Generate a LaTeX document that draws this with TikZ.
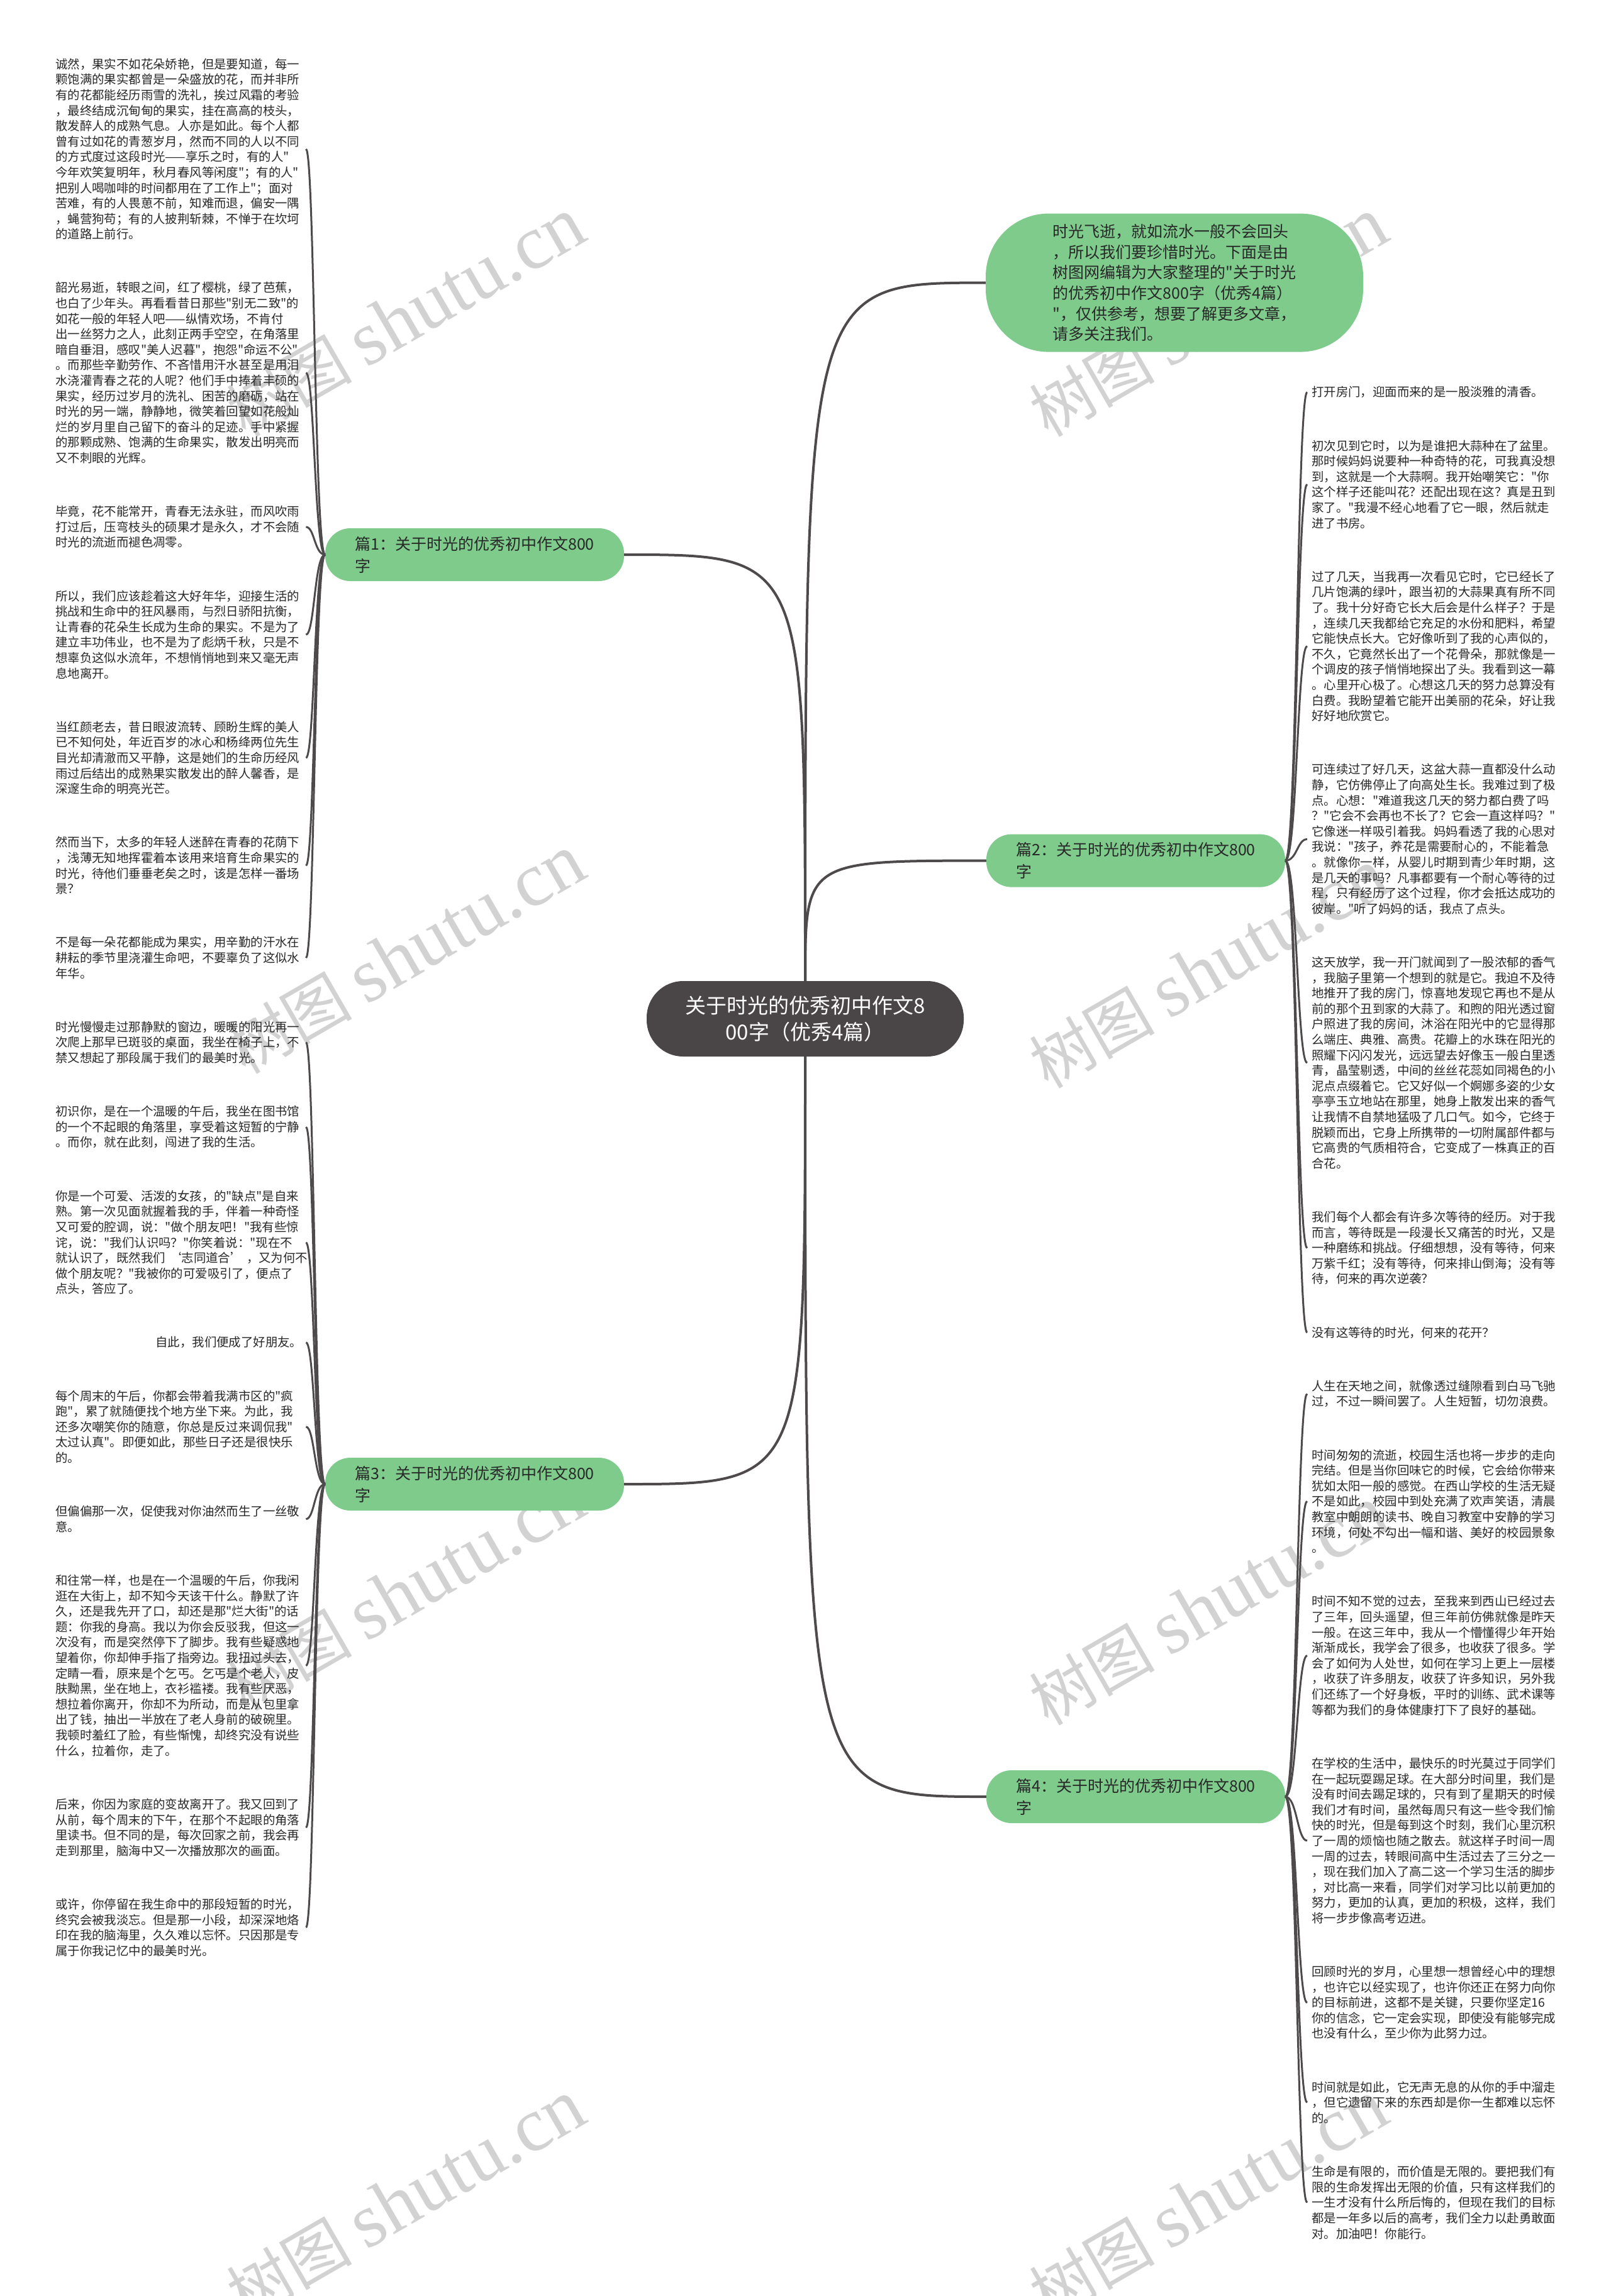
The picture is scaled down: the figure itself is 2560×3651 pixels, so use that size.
\documentclass[tikz,border=0pt]{standalone}
\usepackage{fontspec}
\setmainfont{Noto Sans CJK SC}[Ligatures=TeXOff]
\newfontfamily\wmlatin{Liberation Serif}
\definecolor{mmgreen}{RGB}{126,203,140}
\definecolor{mmdark}{RGB}{74,69,70}
\definecolor{mmline}{RGB}{78,74,75}
\definecolor{mmtext}{RGB}{40,40,40}
\definecolor{wmgray}{RGB}{210,210,210}
\begin{document}
\begin{tikzpicture}[x=1pt,y=-1pt,
  leaf/.style={inner sep=0pt, text width=392pt, font=\fontsize{19.4}{24.6}\selectfont, text=mmtext},
  leafL/.style={leaf, anchor=north west, align=left},
  leafR/.style={leaf, anchor=north west, align=left},
  branch/.style={fill=mmgreen, rounded corners=40pt, minimum width=475pt, minimum height=84pt, inner sep=0pt, align=left, font=\fontsize{25}{35}\selectfont, text=mmtext},
  topnode/.style={fill=mmgreen, rounded corners=100pt, minimum width=600pt, minimum height=220pt, inner sep=0pt, align=left, font=\fontsize{25}{32.6}\selectfont, text=mmtext},
  centre/.style={fill=mmdark, rounded corners=58pt, minimum width=504pt, minimum height=120pt, inner sep=0pt, align=center, font=\fontsize{33}{42}\selectfont, text=white},
  mainline/.style={draw=mmline, line width=4pt},
  leafline/.style={draw=mmline, line width=3pt},
  wm/.style={text=wmgray, rotate=30, font=\fontsize{100}{110}\selectfont, inner sep=0pt}
]
\fill[white] (0,0) rectangle (2560,3651);
\useasboundingbox (0,0) rectangle (2560,3651);

% watermarks
\foreach \wx/\wy [count=\k] in {645/505, 1921/505, 645/1518, 1921/1541, 645/2531, 1921/2554, 645/3498, 1921/3498}
  \node[wm] (wm\k) at (\wx,\wy) {树图 {\wmlatin\fontsize{122}{122}\selectfont shutu.cn}};

% main nodes
\node[centre] (c) at (1280,1620) {关于时光的优秀初中作文8\\00字（优秀4篇）};
\node[topnode] (top) at (1867,449.6) {时光飞逝，就如流水一般不会回头\\，所以我们要珍惜时光。下面是由\\树图网编辑为大家整理的"关于时光\\的优秀初中作文800字（优秀4篇）\\"，仅供参考，想要了解更多文章，\\请多关注我们。};
\node[branch] (b1) at (754.5,882) {篇1：关于时光的优秀初中作文800\\字};
\node[branch] (b2) at (1805.5,1368.6) {篇2：关于时光的优秀初中作文800\\字};
\node[branch] (b3) at (754.5,2360) {篇3：关于时光的优秀初中作文800\\字};
\node[branch] (b4) at (1805.5,2857) {篇4：关于时光的优秀初中作文800\\字};

% left leaves, essay 1
\node[leafL] (l1) at (88,92.5) {诚然，果实不如花朵娇艳，但是要知道，每一\\颗饱满的果实都曾是一朵盛放的花，而并非所\\有的花都能经历雨雪的洗礼，挨过风霜的考验\\，最终结成沉甸甸的果实，挂在高高的枝头，\\散发醉人的成熟气息。人亦是如此。每个人都\\曾有过如花的青葱岁月，然而不同的人以不同\\的方式度过这段时光——享乐之时，有的人"\\今年欢笑复明年，秋月春风等闲度"；有的人"\\把别人喝咖啡的时间都用在了工作上"；面对\\苦难，有的人畏葸不前，知难而退，偏安一隅\\，蝇营狗苟；有的人披荆斩棘，不惮于在坎坷\\的道路上前行。};
\node[leafL] (l2) at (88,448.3) {韶光易逝，转眼之间，红了樱桃，绿了芭蕉，\\也白了少年头。再看看昔日那些"别无二致"的\\如花一般的年轻人吧——纵情欢场，不肯付\\出一丝努力之人，此刻正两手空空，在角落里\\暗自垂泪，感叹"美人迟暮"，抱怨"命运不公"\\。而那些辛勤劳作、不吝惜用汗水甚至是用泪\\水浇灌青春之花的人呢？他们手中捧着丰硕的\\果实，经历过岁月的洗礼、困苦的磨砺，站在\\时光的另一端，静静地，微笑着回望如花般灿\\烂的岁月里自己留下的奋斗的足迹。手中紧握\\的那颗成熟、饱满的生命果实，散发出明亮而\\又不刺眼的光辉。};
\node[leafL] (l3) at (88,804.1) {毕竟，花不能常开，青春无法永驻，而风吹雨\\打过后，压弯枝头的硕果才是永久，才不会随\\时光的流逝而褪色凋零。};
\node[leafL] (l4) at (88,938.5) {所以，我们应该趁着这大好年华，迎接生活的\\挑战和生命中的狂风暴雨，与烈日骄阳抗衡，\\让青春的花朵生长成为生命的果实。不是为了\\建立丰功伟业，也不是为了彪炳千秋，只是不\\想辜负这似水流年，不想悄悄地到来又毫无声\\息地离开。};
\node[leafL] (l5) at (88,1146.7) {当红颜老去，昔日眼波流转、顾盼生辉的美人\\已不知何处，年近百岁的冰心和杨绛两位先生\\目光却清澈而又平静，这是她们的生命历经风\\雨过后结出的成熟果实散发出的醉人馨香，是\\深邃生命的明亮光芒。};
\node[leafL] (l6) at (88,1330.3) {然而当下，太多的年轻人迷醉在青春的花荫下\\，浅薄无知地挥霍着本该用来培育生命果实的\\时光，待他们垂垂老矣之时，该是怎样一番场\\景？};
\node[leafL] (l7) at (88,1489.3) {不是每一朵花都能成为果实，用辛勤的汗水在\\耕耘的季节里浇灌生命吧，不要辜负了这似水\\年华。};

% left leaves, essay 3
\node[leafL] (l8) at (88,1623.7) {时光慢慢走过那静默的窗边，暖暖的阳光再一\\次爬上那早已斑驳的桌面，我坐在椅子上，不\\禁又想起了那段属于我们的最美时光。};
\node[leafL] (l9) at (88,1758.1) {初识你，是在一个温暖的午后，我坐在图书馆\\的一个不起眼的角落里，享受着这短暂的宁静\\。而你，就在此刻，闯进了我的生活。};
\node[leafL] (l10) at (88,1892.5) {你是一个可爱、活泼的女孩，的"缺点"是自来\\熟。第一次见面就握着我的手，伴着一种奇怪\\又可爱的腔调，说："做个朋友吧！"我有些惊\\诧，说："我们认识吗？"你笑着说："现在不\\就认识了，既然我们~‘志同道合’~，又为何不\\做个朋友呢？"我被你的可爱吸引了，便点了\\点头，答应了。};
\node[leaf, anchor=north west, align=right] (l11) at (88,2125.3) {自此，我们便成了好朋友。};
\node[leafL] (l12) at (88,2210.5) {每个周末的午后，你都会带着我满市区的"疯\\跑"，累了就随便找个地方坐下来。为此，我\\还多次嘲笑你的随意，你总是反过来调侃我"\\太过认真"。即便如此，那些日子还是很快乐\\的。};
\node[leafL] (l13) at (88,2394.1) {但偏偏那一次，促使我对你油然而生了一丝敬\\意。};
\node[leafL] (l14) at (88,2503.9) {和往常一样，也是在一个温暖的午后，你我闲\\逛在大街上，却不知今天该干什么。静默了许\\久，还是我先开了口，却还是那"烂大街"的话\\题：你我的身高。我以为你会反驳我，但这一\\次没有，而是突然停下了脚步。我有些疑惑地\\望着你，你却伸手指了指旁边。我扭过头去，\\定睛一看，原来是个乞丐。乞丐是个老人，皮\\肤黝黑，坐在地上，衣衫褴褛。我有些厌恶，\\想拉着你离开，你却不为所动，而是从包里拿\\出了钱，抽出一半放在了老人身前的破碗里。\\我顿时羞红了脸，有些惭愧，却终究没有说些\\什么，拉着你，走了。};
\node[leafL] (l15) at (88,2859.7) {后来，你因为家庭的变故离开了。我又回到了\\从前，每个周末的下午，在那个不起眼的角落\\里读书。但不同的是，每次回家之前，我会再\\走到那里，脑海中又一次播放那次的画面。};
\node[leafL] (l16) at (88,3018.7) {或许，你停留在我生命中的那段短暂的时光，\\终究会被我淡忘。但是那一小段，却深深地烙\\印在我的脑海里，久久难以忘怀。只因那是专\\属于你我记忆中的最美时光。};

% right leaves, essay 2
\node[leafR] (r1) at (2085,614.3) {打开房门，迎面而来的是一股淡雅的清香。};
\node[leafR] (r2) at (2085,699.5) {初次见到它时，以为是谁把大蒜种在了盆里。\\那时候妈妈说要种一种奇特的花，可我真没想\\到，这就是一个大蒜啊。我开始嘲笑它："你\\这个样子还能叫花？还配出现在这？真是丑到\\家了。"我漫不经心地看了它一眼，然后就走\\进了书房。};
\node[leafR] (r3) at (2085,907.7) {过了几天，当我再一次看见它时，它已经长了\\几片饱满的绿叶，跟当初的大蒜果真有所不同\\了。我十分好奇它长大后会是什么样子？于是\\，连续几天我都给它充足的水份和肥料，希望\\它能快点长大。它好像听到了我的心声似的，\\不久，它竟然长出了一个花骨朵，那就像是一\\个调皮的孩子悄悄地探出了头。我看到这一幕\\。心里开心极了。心想这几天的努力总算没有\\白费。我盼望着它能开出美丽的花朵，好让我\\好好地欣赏它。};
\node[leafR] (r4) at (2085,1214.3) {可连续过了好几天，这盆大蒜一直都没什么动\\静，它仿佛停止了向高处生长。我难过到了极\\点。心想："难道我这几天的努力都白费了吗\\？"它会不会再也不长了？它会一直这样吗？"\\它像迷一样吸引着我。妈妈看透了我的心思对\\我说："孩子，养花是需要耐心的，不能着急\\。就像你一样，从婴儿时期到青少年时期，这\\是几天的事吗？凡事都要有一个耐心等待的过\\程，只有经历了这个过程，你才会抵达成功的\\彼岸。"听了妈妈的话，我点了点头。};
\node[leafR] (r5) at (2085,1520.9) {这天放学，我一开门就闻到了一股浓郁的香气\\，我脑子里第一个想到的就是它。我迫不及待\\地推开了我的房门，惊喜地发现它再也不是从\\前的那个丑到家的大蒜了。和煦的阳光透过窗\\户照进了我的房间，沐浴在阳光中的它显得那\\么端庄、典雅、高贵。花瓣上的水珠在阳光的\\照耀下闪闪发光，远远望去好像玉一般白里透\\青，晶莹剔透，中间的丝丝花蕊如同褐色的小\\泥点点缀着它。它又好似一个婀娜多姿的少女\\亭亭玉立地站在那里，她身上散发出来的香气\\让我情不自禁地猛吸了几口气。如今，它终于\\脱颖而出，它身上所携带的一切附属部件都与\\它高贵的气质相符合，它变成了一株真正的百\\合花。};
\node[leafR] (r6) at (2085,1925.9) {我们每个人都会有许多次等待的经历。对于我\\而言，等待既是一段漫长又痛苦的时光，又是\\一种磨练和挑战。仔细想想，没有等待，何来\\万紫千红；没有等待，何来排山倒海；没有等\\待，何来的再次逆袭？};
\node[leafR] (r7) at (2085,2109.5) {没有这等待的时光，何来的花开？};

% right leaves, essay 4
\node[leafR] (r8) at (2085,2194.7) {人生在天地之间，就像透过缝隙看到白马飞驰\\过，不过一瞬间罢了。人生短暂，切勿浪费。};
\node[leafR] (r9) at (2085,2304.5) {时间匆匆的流逝，校园生活也将一步步的走向\\完结。但是当你回味它的时候，它会给你带来\\犹如太阳一般的感觉。在西山学校的生活无疑\\不是如此，校园中到处充满了欢声笑语，清晨\\教室中朗朗的读书、晚自习教室中安静的学习\\环境，何处不勾出一幅和谐、美好的校园景象\\。};
\node[leafR] (r10) at (2085,2537.3) {时间不知不觉的过去，至我来到西山已经过去\\了三年，回头遥望，但三年前仿佛就像是昨天\\一般。在这三年中，我从一个懵懂得少年开始\\渐渐成长，我学会了很多，也收获了很多。学\\会了如何为人处世，如何在学习上更上一层楼\\，收获了许多朋友，收获了许多知识，另外我\\们还练了一个好身板，平时的训练、武术课等\\等都为我们的身体健康打下了良好的基础。};
\node[leafR] (r11) at (2085,2794.7) {在学校的生活中，最快乐的时光莫过于同学们\\在一起玩耍踢足球。在大部分时间里，我们是\\没有时间去踢足球的，只有到了星期天的时候\\我们才有时间，虽然每周只有这一些令我们愉\\快的时光，但是每到这个时刻，我们心里沉积\\了一周的烦恼也随之散去。就这样子时间一周\\一周的过去，转眼间高中生活过去了三分之一\\，现在我们加入了高二这一个学习生活的脚步\\，对比高一来看，同学们对学习比以前更加的\\努力，更加的认真，更加的积极，这样，我们\\将一步步像高考迈进。};
\node[leafR] (r12) at (2085,3125.9) {回顾时光的岁月，心里想一想曾经心中的理想\\，也许它以经实现了，也许你还正在努力向你\\的目标前进，这都不是关键，只要你坚定16\\你的信念，它一定会实现，即使没有能够完成\\也没有什么，至少你为此努力过。};
\node[leafR] (r13) at (2085,3309.5) {时间就是如此，它无声无息的从你的手中溜走\\，但它遗留下来的东西却是你一生都难以忘怀\\的。};
\node[leafR] (r14) at (2085,3443.9) {生命是有限的，而价值是无限的。要把我们有\\限的生命发挥出无限的价值，只有这样我们的\\一生才没有什么所后悔的，但现在我们的目标\\都是一年多以后的高考，我们全力以赴勇敢面\\对。加油吧！你能行。};

% main connectors
\draw[mainline] (c.north) .. controls (c.north |- top.west) .. (top.west);
\draw[mainline] (c.north) .. controls (c.north |- b1.east) .. (b1.east);
\draw[mainline] (c.north) .. controls (c.north |- b2.west) .. (b2.west);
\draw[mainline] (c.south) .. controls (c.south |- b3.east) .. (b3.east);
\draw[mainline] (c.south) .. controls (c.south |- b4.west) .. (b4.west);

% trunks
\coordinate (tl) at (500,0);
\coordinate (tr) at (2062,0);
\foreach \i in {1,...,7}
  \draw[leafline] (b1.west) .. controls (tl |- b1.west) and (tl |- l\i.east) .. ([xshift=6pt]l\i.east);
\foreach \i in {8,...,16}
  \draw[leafline] (b3.west) .. controls (tl |- b3.west) and (tl |- l\i.east) .. ([xshift=6pt]l\i.east);
\foreach \i in {1,...,7}
  \draw[leafline] (b2.east) .. controls (tr |- b2.east) and (tr |- r\i.west) .. ([xshift=-7pt]r\i.west);
\foreach \i in {8,...,14}
  \draw[leafline] (b4.east) .. controls (tr |- b4.east) and (tr |- r\i.west) .. ([xshift=-7pt]r\i.west);
\end{tikzpicture}
\end{document}
